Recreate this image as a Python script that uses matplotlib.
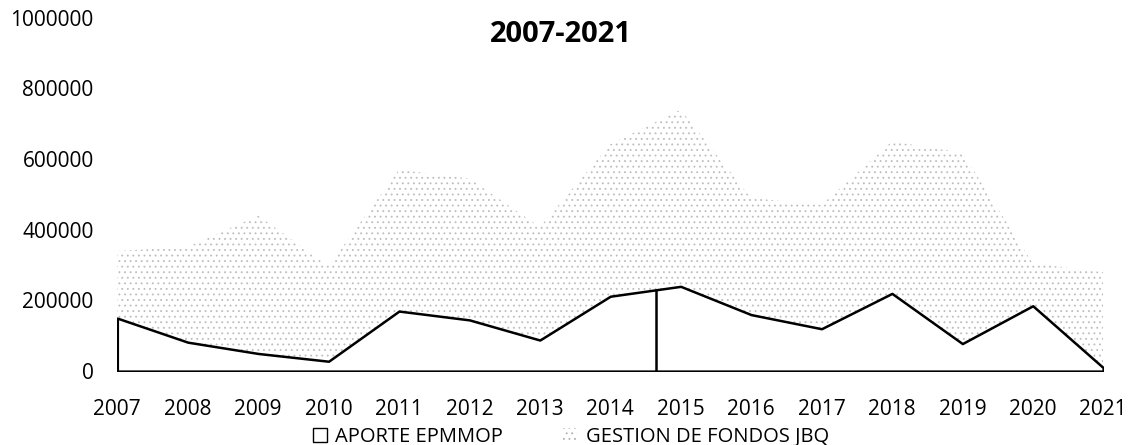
import matplotlib.pyplot as plt
import numpy as np
from matplotlib.patches import Patch
from matplotlib.ticker import StrMethodFormatter

plt.rcParams['font.family'] = ['Open Sans', 'DejaVu Sans']
plt.rcParams['hatch.linewidth'] = 0.6

anios = [2007, 2008, 2009, 2010, 2011, 2012, 2013, 2014, 2015, 2016, 2017, 2018, 2019, 2020, 2021]
aporte_epmmop = [150000, 82000, 50000, 28000, 170000, 145000, 88000, 212000, 240000, 160000, 120000, 220000, 78000, 185000, 10000]
gestion_jbq = [190000, 270000, 390000, 270000, 400000, 400000, 320000, 430000, 500000, 330000, 350000, 430000, 540000, 120000, 270000]
corte_x = 2014.65  # raya vertical del escaneo

fig, ax = plt.subplots()
fig.set_size_inches(11.28, 4.45)
fig.subplots_adjust(left=0.104, right=0.978, bottom=0.166, top=0.96)

x = np.array(anios)
a = np.array(aporte_epmmop)
g = np.array(gestion_jbq)

ax.fill_between(x, a, a + g, facecolor='white', edgecolor='#bdbdbd', hatch='...', linewidth=0)
ax.fill_between(x, 0, a, facecolor='white', edgecolor='black', linewidth=1.8)
ax.vlines(corte_x, 0, np.interp(corte_x, x, a), color='black', linewidth=1.8)

ax.set_xlim(anios[0], anios[-1])
ax.set_ylim(0, 1000000)
ax.set_xticks(anios)
ax.set_yticks(range(0, 1000001, 200000))
ax.yaxis.set_major_formatter(StrMethodFormatter('{x:.0f}'))
ax.tick_params(axis='both', length=0, labelsize=15)
ax.tick_params(axis='x', pad=20)
ax.tick_params(axis='y', pad=17)
for s in ax.spines.values():
    s.set_visible(False)

fig.text(0.497, 1 - 35 / 445, '2007-2021', fontsize=21, fontweight='bold', ha='center', va='center')

handles = [Patch(facecolor='white', edgecolor='black', label='APORTE EPMMOP'),
           Patch(facecolor='white', edgecolor='#b0b0b0', hatch='...', linewidth=0, label='GESTION DE FONDOS JBQ')]
fig.legend(handles=handles, loc='lower center', ncol=2, frameon=False, fontsize=14.5,
           bbox_to_anchor=(0.506, -0.045), handlelength=0.7, handleheight=0.7, handletextpad=0.4,
           columnspacing=3)

fig.savefig('out.png', dpi=100)
